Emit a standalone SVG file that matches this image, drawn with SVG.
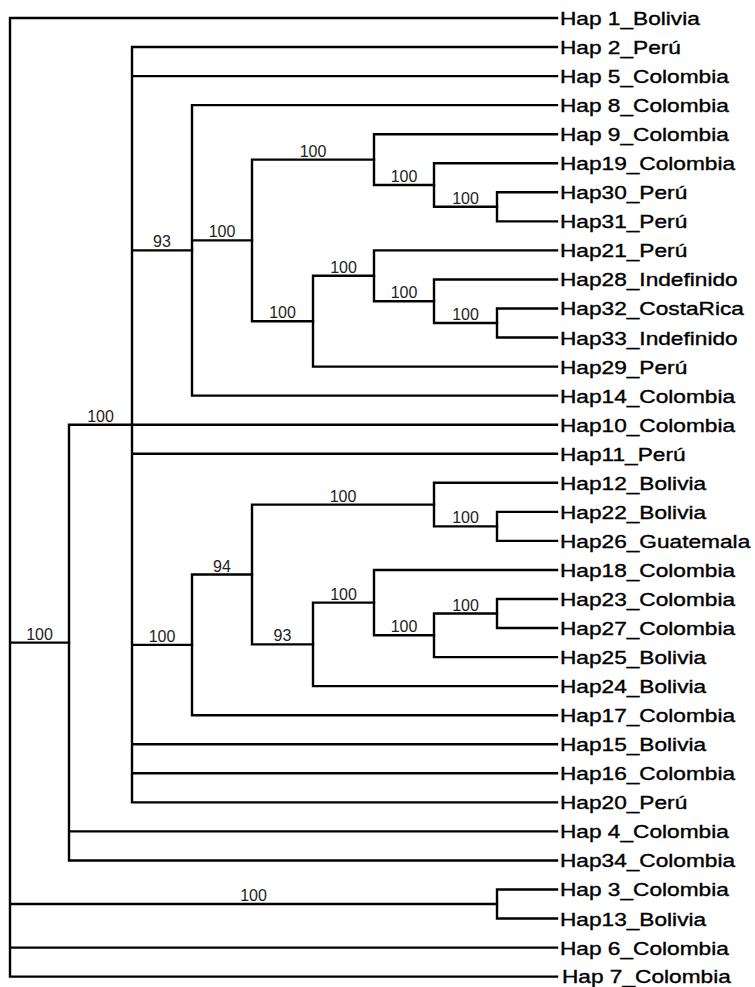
<svg xmlns="http://www.w3.org/2000/svg" width="755" height="987" viewBox="0 0 755 987">
<style>
.br{fill:none;stroke:#000;stroke-width:2.4;stroke-linecap:square}
.bs{font-family:"Liberation Sans",Arial,sans-serif;font-size:16px;fill:#222;text-anchor:middle}
.lf{font-family:"Liberation Sans",Arial,sans-serif;font-size:18px;fill:#000;stroke:#000;stroke-width:0.35}
</style>
<rect width="755" height="987" fill="#fff"/>
<g id="connectors" class="br">
<path d="M10,18V976.65 M10,18H557 M10,642.6H69 M10,904H497 M10,947.6H557 M10,976.65H557"/>
<path d="M69,424.7V860.45 M69,424.7H132 M69,831.4H557 M69,860.45H557"/>
<path d="M132,47.05V802.35 M132,47.05H557 M132,76.1H557 M132,250.4H192 M132,424.7H557 M132,453.75H557 M132,644.9H192 M132,744.25H557 M132,773.3H557 M132,802.35H557"/>
<path d="M192,105.15V395.65 M192,105.15H557 M192,240.4H252 M192,395.65H557"/>
<path d="M252,159.6V321.2 M252,159.6H374 M252,321.2H313"/>
<path d="M374,134.2V185 M374,134.2H557 M374,185H434"/>
<path d="M434,163.25V206.8 M434,163.25H557 M434,206.8H497"/>
<path d="M497,192.3V221.35 M497,192.3H557 M497,221.35H557"/>
<path d="M313,275.8V366.6 M313,275.8H374 M313,366.6H557"/>
<path d="M374,250.4V301.2 M374,250.4H557 M374,301.2H434"/>
<path d="M434,279.45V323 M434,279.45H557 M434,323H497"/>
<path d="M497,308.5V337.55 M497,308.5H557 M497,337.55H557"/>
<path d="M192,574.5V715.2 M192,574.5H252 M192,715.2H557"/>
<path d="M252,504.6V644.4 M252,504.6H434 M252,644.4H313"/>
<path d="M434,482.8V526.4 M434,482.8H557 M434,526.4H497"/>
<path d="M497,511.85V540.9 M497,511.85H557 M497,540.9H557"/>
<path d="M313,602.6V686.15 M313,602.6H374 M313,686.15H557"/>
<path d="M374,569.95V635.3 M374,569.95H557 M374,635.3H434"/>
<path d="M434,613.5V657.1 M434,613.5H497 M434,657.1H557"/>
<path d="M497,599V628.05 M497,599H557 M497,628.05H557"/>
<path d="M497,889.5V918.55 M497,889.5H557 M497,918.55H557"/>
</g>
<g id="support" class="bs">
<text x="39.5" y="639.6">100</text>
<text x="100.5" y="421.7">100</text>
<text x="162" y="247.4">93</text>
<text x="222" y="237.4">100</text>
<text x="313" y="156.6">100</text>
<text x="404" y="182">100</text>
<text x="465.5" y="203.8">100</text>
<text x="282.5" y="318.2">100</text>
<text x="343.5" y="272.8">100</text>
<text x="404" y="298.2">100</text>
<text x="465.5" y="320">100</text>
<text x="162" y="641.9">100</text>
<text x="222" y="571.5">94</text>
<text x="343" y="501.6">100</text>
<text x="465.5" y="523.4">100</text>
<text x="282.5" y="641.4">93</text>
<text x="343.5" y="599.6">100</text>
<text x="404" y="632.3">100</text>
<text x="465.5" y="610.5">100</text>
<text x="253.5" y="901">100</text>
</g>
<g id="leaves" class="lf" transform="scale(1.26 1)">
<g id="hap1"><text x="444.4" y="25">Hap 1_Bolivia</text></g>
<g id="hap2"><text x="444.4" y="54.05">Hap 2_Perú</text></g>
<g id="hap5"><text x="444.4" y="83.1">Hap 5_Colombia</text></g>
<g id="hap8"><text x="444.4" y="112.15">Hap 8_Colombia</text></g>
<g id="hap9"><text x="444.4" y="141.2">Hap 9_Colombia</text></g>
<g id="hap19"><text x="444.4" y="170.25">Hap19_Colombia</text></g>
<g id="hap30"><text x="444.4" y="199.3">Hap30_Perú</text></g>
<g id="hap31"><text x="444.4" y="228.35">Hap31_Perú</text></g>
<g id="hap21"><text x="444.4" y="257.4">Hap21_Perú</text></g>
<g id="hap28"><text x="444.4" y="286.45">Hap28_Indefinido</text></g>
<g id="hap32"><text x="444.4" y="315.5">Hap32_CostaRica</text></g>
<g id="hap33"><text x="444.4" y="344.55">Hap33_Indefinido</text></g>
<g id="hap29"><text x="444.4" y="373.6">Hap29_Perú</text></g>
<g id="hap14"><text x="444.4" y="402.65">Hap14_Colombia</text></g>
<g id="hap10"><text x="444.4" y="431.7">Hap10_Colombia</text></g>
<g id="hap11"><text x="444.4" y="460.75">Hap11_Perú</text></g>
<g id="hap12"><text x="444.4" y="489.8">Hap12_Bolivia</text></g>
<g id="hap22"><text x="444.4" y="518.85">Hap22_Bolivia</text></g>
<g id="hap26"><text x="444.4" y="547.9">Hap26_Guatemala</text></g>
<g id="hap18"><text x="444.4" y="576.95">Hap18_Colombia</text></g>
<g id="hap23"><text x="444.4" y="606">Hap23_Colombia</text></g>
<g id="hap27"><text x="444.4" y="635.05">Hap27_Colombia</text></g>
<g id="hap25"><text x="444.4" y="664.1">Hap25_Bolivia</text></g>
<g id="hap24"><text x="444.4" y="693.15">Hap24_Bolivia</text></g>
<g id="hap17"><text x="444.4" y="722.2">Hap17_Colombia</text></g>
<g id="hap15"><text x="444.4" y="751.25">Hap15_Bolivia</text></g>
<g id="hap16"><text x="444.4" y="780.3">Hap16_Colombia</text></g>
<g id="hap20"><text x="444.4" y="809.35">Hap20_Perú</text></g>
<g id="hap4"><text x="444.4" y="838.4">Hap 4_Colombia</text></g>
<g id="hap34"><text x="444.4" y="867.45">Hap34_Colombia</text></g>
<g id="hap3"><text x="444.4" y="896.5">Hap 3_Colombia</text></g>
<g id="hap13"><text x="444.4" y="925.55">Hap13_Bolivia</text></g>
<g id="hap6"><text x="444.4" y="954.6">Hap 6_Colombia</text></g>
<g id="hap7"><text x="446" y="983.3">Hap 7_Colombia</text></g>
</g>
</svg>
